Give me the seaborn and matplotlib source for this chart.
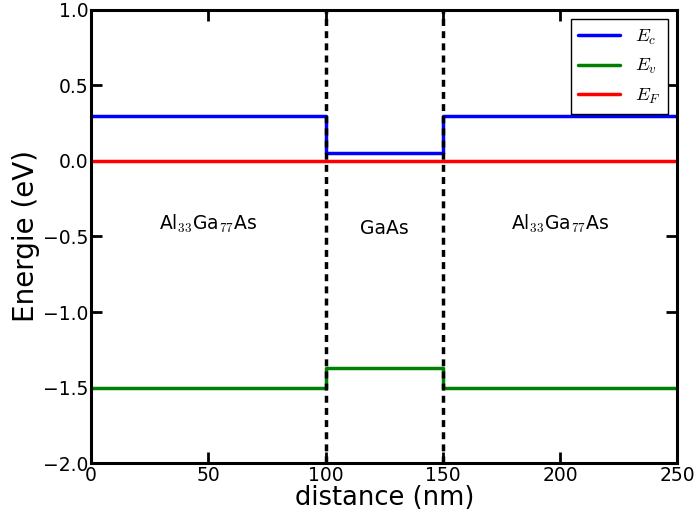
import numpy as np
import pandas as pd
import matplotlib
matplotlib.use('Agg')
import matplotlib.pyplot as plt
import seaborn as sns

# band profile data (steps-post)
distance = [0, 100, 150, 250]
e_c = [0.3, 0.05, 0.3, 0.3]
e_v = [-1.5, -1.37, -1.5, -1.5]
e_f = [0.0, 0.0, 0.0, 0.0]
interfaces = [100, 150]
layer_x = [50, 125, 200]
layer_y = [-0.42, -0.45, -0.42]
layer_names = ['Al$_{33}$Ga$_{77}$As', 'GaAs', 'Al$_{33}$Ga$_{77}$As']

sns.set_style('ticks')
plt.rcParams['font.family'] = ['DejaVu Sans']
plt.rcParams['mathtext.fontset'] = 'cm'
plt.rcParams['text.color'] = 'black'
plt.rcParams['axes.labelcolor'] = 'black'
plt.rcParams['xtick.color'] = 'black'
plt.rcParams['ytick.color'] = 'black'
plt.rcParams['axes.edgecolor'] = 'black'

df = pd.DataFrame({'x': distance * 3,
                   'E': e_c + e_v + e_f,
                   'band': ['$E_c$'] * 4 + ['$E_v$'] * 4 + ['$E_F$'] * 4})

fig, ax = plt.subplots(figsize=(6.96, 5.18), dpi=100)
sns.lineplot(data=df, x='x', y='E', hue='band', palette=['blue', 'green', 'red'],
             drawstyle='steps-post', linewidth=2.5, ax=ax)
for xi in interfaces:
    ax.axvline(xi, color='black', linestyle='--', linewidth=2.5, dashes=(2, 1.5))
for x, y, s in zip(layer_x, layer_y, layer_names):
    ax.text(x, y, s, ha='center', va='center', fontsize=13.5)

ax.set_xlim(0, 250)
ax.set_ylim(-2.0, 1.0)
ax.set_xticks([0, 50, 100, 150, 200, 250])
ax.set_yticks(np.arange(-2.0, 1.01, 0.5))
ax.set_yticklabels([f'{v:.1f}'.replace('-', '\u2212') for v in np.arange(-2.0, 1.01, 0.5)])
ax.set_xlabel('distance (nm)', fontsize=18.5, labelpad=0)
ax.set_ylabel('Energie (eV)', fontsize=20, labelpad=2)
ax.tick_params(direction='in', length=8, width=2, labelsize=13.5, top=True, right=True, pad=2)
for sp in ax.spines.values():
    sp.set_linewidth(2.2)
    sp.set_visible(True)

leg = ax.legend(loc='upper right', fontsize=13.5, fancybox=False, edgecolor='black',
                framealpha=1, borderaxespad=0.5, handlelength=2.2)
leg.get_frame().set_linewidth(1)
for line in leg.get_lines():
    line.set_linewidth(2.5)

plt.subplots_adjust(left=0.131, right=0.973, top=0.981, bottom=0.106)
plt.savefig('out.png', dpi=100)
